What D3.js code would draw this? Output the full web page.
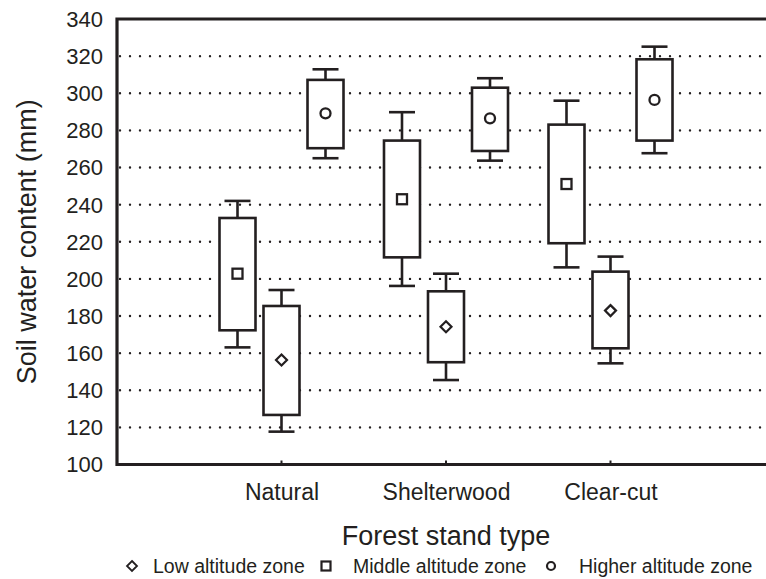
<!DOCTYPE html>
<html><head><meta charset="utf-8">
<script src="https://cdn.jsdelivr.net/npm/d3@7"></script>
<style>body{margin:0;background:#fff}svg{display:block}text{font-family:"Liberation Sans",Arial,sans-serif;fill:#231f20}</style>
</head><body><svg id="c" width="766" height="579"></svg>
<script>
const categories = ["Natural", "Shelterwood", "Clear-cut"];
const seriesNames = ["Low altitude zone", "Middle altitude zone", "Higher altitude zone"];
const yTicks = [100, 120, 140, 160, 180, 200, 220, 240, 260, 280, 300, 320, 340];
// per series: mean, box low, box high, whisker low, whisker high
const lowMean = [156.3, 174.2, 182.9];
const lowQ1 = [126.7, 155.1, 162.6];
const lowQ3 = [185.4, 193.3, 203.9];
const lowMin = [117.7, 145.5, 154.5];
const lowMax = [194.0, 202.8, 212.0];
const midMean = [202.8, 242.9, 251.1];
const midQ1 = [172.3, 211.6, 219.2];
const midQ3 = [232.8, 274.5, 283.1];
const midMin = [163.1, 196.2, 206.2];
const midMax = [242.0, 289.8, 296.0];
const highMean = [289.2, 286.5, 296.4];
const highQ1 = [270.4, 268.9, 274.5];
const highQ3 = [307.2, 303.0, 318.3];
const highMin = [265.0, 263.7, 267.7];
const highMax = [312.9, 308.1, 325.1];

const series = [
  {name: seriesNames[0], sym: "diamond", off: 0, mean: lowMean, q1: lowQ1, q3: lowQ3, min: lowMin, max: lowMax},
  {name: seriesNames[1], sym: "square", off: -1, mean: midMean, q1: midQ1, q3: midQ3, min: midMin, max: midMax},
  {name: seriesNames[2], sym: "circle", off: 1, mean: highMean, q1: highQ1, q3: highQ3, min: highMin, max: highMax}
];

const svg = d3.select("#c");
const L = 117, R = 766, T = 19, B = 464.5;
const y = d3.scaleLinear().domain([100, 340]).range([B, T]);
const x = d3.scaleLinear().domain([0, 4]).range([L, L + 4 * 164.5]);
const off = 0.2675, boxW = 36, capW = 26;
const ink = "#231f20";

// gridlines
svg.append("g").selectAll("line").data(yTicks.filter(d => d > 100 && d < 340)).join("line")
  .attr("x1", L + 3).attr("x2", R).attr("y1", d => y(d)).attr("y2", d => y(d))
  .attr("stroke", ink).attr("stroke-width", 2.4).attr("stroke-linecap", "round")
  .attr("stroke-dasharray", "0,10");

// y axis
const yAxis = d3.axisLeft(y).tickValues(yTicks).tickSize(0).tickPadding(14);
const gy = svg.append("g").attr("transform", `translate(${L},0)`).call(yAxis);
gy.select(".domain").remove();
gy.selectAll("text").style("font-size", "22px").attr("fill", ink).attr("dy", "0.34em");

// x axis labels
const xAxis = d3.axisBottom(x).tickValues([1, 2, 3]).tickFormat((d, i) => categories[i]).tickSize(0).tickPadding(19);
const gx = svg.append("g").attr("transform", `translate(0,${B})`).call(xAxis);
gx.select(".domain").remove();
gx.selectAll("text").style("font-size", "23px").attr("fill", ink);
// small x ticks
svg.append("g").selectAll("line").data([1, 2, 3]).join("line")
  .attr("x1", d => x(d)).attr("x2", d => x(d)).attr("y1", B).attr("y2", B - 4)
  .attr("stroke", ink).attr("stroke-width", 2);

// frame
svg.append("path").attr("d", `M${R},${T}H${L}V${B}H${R}`).attr("fill", "none")
  .attr("stroke", ink).attr("stroke-width", 3.2);

// boxes
function drawMarker(g, sym, cx, cy) {
  if (sym === "circle") g.append("circle").attr("cx", cx).attr("cy", cy).attr("r", 5)
    .attr("fill", "#fff").attr("stroke", ink).attr("stroke-width", 2.3);
  else if (sym === "square") g.append("rect").attr("x", cx - 5).attr("y", cy - 5).attr("width", 10).attr("height", 10)
    .attr("fill", "#fff").attr("stroke", ink).attr("stroke-width", 2.3);
  else g.append("path").attr("d", `M${cx},${cy - 5.5}L${cx + 5.5},${cy}L${cx},${cy + 5.5}L${cx - 5.5},${cy}Z`)
    .attr("fill", "#fff").attr("stroke", ink).attr("stroke-width", 2.2);
}
series.forEach(s => {
  categories.forEach((c, i) => {
    const cx = x(i + 1 + s.off * off);
    const g = svg.append("g");
    g.append("line").attr("x1", cx).attr("x2", cx).attr("y1", y(s.max[i])).attr("y2", y(s.min[i]))
      .attr("stroke", ink).attr("stroke-width", 2.6);
    [s.max[i], s.min[i]].forEach(v => g.append("line").attr("x1", cx - capW / 2).attr("x2", cx + capW / 2)
      .attr("y1", y(v)).attr("y2", y(v)).attr("stroke", ink).attr("stroke-width", 2.6));
    g.append("rect").attr("x", cx - boxW / 2).attr("y", y(s.q3[i])).attr("width", boxW)
      .attr("height", y(s.q1[i]) - y(s.q3[i])).attr("fill", "#fff").attr("stroke", ink).attr("stroke-width", 2.6);
    drawMarker(g, s.sym, cx, y(s.mean[i]));
  });
});

// axis titles
svg.append("text").attr("transform", `translate(36,${(T + B) / 2}) rotate(-90)`).attr("text-anchor", "middle")
  .style("font-size", "27px").text("Soil water content (mm)");
svg.append("text").attr("x", x(2)).attr("y", 545).attr("text-anchor", "middle")
  .style("font-size", "27px").text("Forest stand type");

// legend
const legSym = [132, 326, 551];
const legTxt = [153, 353, 579];
series.forEach((s, i) => {
  const g = svg.append("g");
  const cy = 566;
  const sx = legSym[i];
  if (s.sym === "circle") g.append("circle").attr("cx", sx).attr("cy", cy).attr("r", 4)
    .attr("fill", "#fff").attr("stroke", ink).attr("stroke-width", 2.2);
  else if (s.sym === "square") g.append("rect").attr("x", sx - 4.5).attr("y", cy - 4.5).attr("width", 9).attr("height", 9)
    .attr("fill", "#fff").attr("stroke", ink).attr("stroke-width", 2.2);
  else g.append("path").attr("d", `M${sx},${cy - 5}L${sx + 5},${cy}L${sx},${cy + 5}L${sx - 5},${cy}Z`)
    .attr("fill", "#fff").attr("stroke", ink).attr("stroke-width", 1.8);
  g.append("text").attr("x", legTxt[i]).attr("y", 573).style("font-size", "19.5px").text(s.name);
});
</script></body></html>
